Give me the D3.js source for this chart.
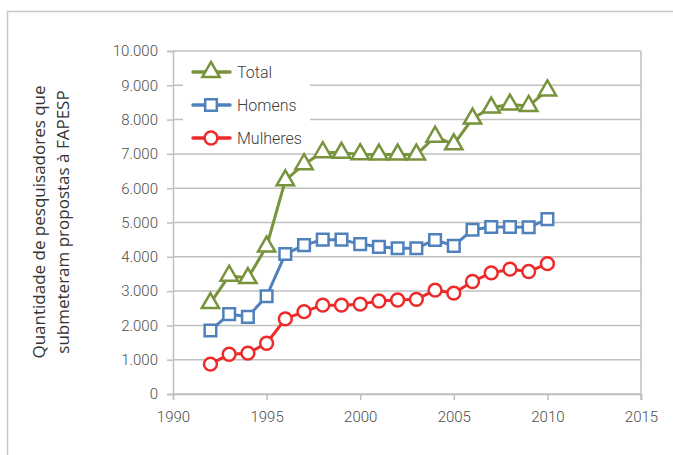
<!DOCTYPE html>
<html>
<head>
<meta charset="utf-8">
<script src="https://cdn.jsdelivr.net/npm/d3@7"></script>
<style>
  body { margin: 0; background: #fff; }
  svg { display: block; }
</style>
</head>
<body>
<script>
// data
var years = [1992, 1993, 1994, 1995, 1996, 1997, 1998, 1999, 2000, 2001,
  2002, 2003, 2004, 2005, 2006, 2007, 2008, 2009, 2010];
var total = [2650, 3450, 3380, 4300, 6230, 6700, 7050, 7030, 6990, 6980,
  6980, 6980, 7500, 7280, 8030, 8350, 8440, 8400, 8850];
var homens = [1850, 2330, 2250, 2850, 4080, 4340, 4500, 4500, 4370, 4290,
  4250, 4250, 4490, 4320, 4790, 4870, 4870, 4860, 5100];
var mulheres = [870, 1160, 1190, 1480, 2190, 2400, 2590, 2590, 2620, 2710,
  2740, 2760, 3030, 2940, 3280, 3530, 3640, 3570, 3800];
var xTicks = [1990, 1995, 2000, 2005, 2010, 2015];
var yTicks = [0, 1000, 2000, 3000, 4000, 5000, 6000, 7000, 8000, 9000, 10000];
var seriesNames = ["Total", "Homens", "Mulheres"];
var yTitle = ["Quantidade de pesquisadores que", "submeteram propostas à FAPESP"];

var width = 673, height = 455;
var margin = { top: 51, right: 32, bottom: 61, left: 173 };

var colors = { Total: "#77933c", Homens: "#4f81bd", Mulheres: "#ee2a2a" };
var shapes = { Total: d3.symbolTriangle, Homens: d3.symbolSquare, Mulheres: d3.symbolCircle };
var sizes = { Total: 130, Homens: 135, Mulheres: 130 };

var series = [
  { name: "Total", values: total },
  { name: "Homens", values: homens },
  { name: "Mulheres", values: mulheres }
];

var fmt = d3.formatLocale({ decimal: ",", thousands: ".", grouping: [3], currency: ["R$", ""] }).format(",");

var svg = d3.select("body").append("svg")
  .attr("width", width)
  .attr("height", height);

// outer frame (only top and left show)
svg.append("path")
  .attr("d", "M7.5," + height + "V11.5H" + width)
  .attr("fill", "none")
  .attr("stroke", "#c8c8c8")
  .attr("stroke-width", 1.5);

var x = d3.scaleLinear().domain([1990, 2015]).range([margin.left, width - margin.right]);
var y = d3.scaleLinear().domain([0, 10000]).range([height - margin.bottom, margin.top]);

var tickFont = "Roboto, sans-serif";

// gridlines
svg.append("g")
  .selectAll("line")
  .data(yTicks)
  .enter().append("line")
  .attr("x1", margin.left)
  .attr("x2", width - margin.right)
  .attr("y1", function (d) { return y(d); })
  .attr("y2", function (d) { return y(d); })
  .attr("stroke", "#bfbfbf")
  .attr("stroke-width", 1.5);

// right border of plot
svg.append("line")
  .attr("x1", x(2015)).attr("x2", x(2015))
  .attr("y1", y(10000)).attr("y2", y(0) + 6)
  .attr("stroke", "#bfbfbf")
  .attr("stroke-width", 1.5);

// y axis
var yAxis = svg.append("g")
  .attr("transform", "translate(" + margin.left + ",0)")
  .call(d3.axisLeft(y).tickValues(yTicks).tickSize(6).tickPadding(9).tickFormat(fmt));

// x axis
var xAxis = svg.append("g")
  .attr("transform", "translate(0," + y(0) + ")")
  .call(d3.axisBottom(x).tickValues(xTicks).tickSize(6).tickPadding(11).tickFormat(d3.format("d")));

[xAxis, yAxis].forEach(function (g) {
  g.select(".domain").attr("stroke", "#bfbfbf").attr("stroke-width", 1.5);
  g.selectAll(".tick line").attr("stroke", "#bfbfbf").attr("stroke-width", 1.5);
  g.selectAll(".tick text")
    .attr("fill", "#4d4d4d")
    .style("font-family", tickFont)
    .style("font-weight", 300)
    .style("font-size", "15px");
});

// axis title
svg.append("text")
  .attr("transform", "translate(39," + 222 + ") rotate(-90)")
  .attr("text-anchor", "middle")
  .style("font-family", "'Open Sans', sans-serif")
  .style("font-size", "17px")
  .attr("fill", "#333")
  .selectAll("tspan")
  .data(yTitle)
  .enter().append("tspan")
  .attr("x", 0)
  .attr("dy", function (d, i) { return i === 0 ? "0.35em" : "24px"; })
  .text(function (d) { return d; });

// lines and markers
var line = d3.line()
  .x(function (d, i) { return x(years[i]); })
  .y(function (d) { return y(d); });

var g = svg.append("g");

series.forEach(function (s) {
  g.append("path")
    .datum(s.values)
    .attr("d", line)
    .attr("fill", "none")
    .attr("stroke", colors[s.name])
    .attr("stroke-width", 3)
    .attr("stroke-linejoin", "round");

  g.selectAll(".m-" + s.name)
    .data(s.values)
    .enter().append("path")
    .attr("class", "m-" + s.name)
    .attr("d", d3.symbol().type(shapes[s.name]).size(sizes[s.name]))
    .attr("transform", function (d, i) {
      return "translate(" + x(years[i]) + "," + y(d) + ")";
    })
    .attr("fill", "#fff")
    .attr("stroke", colors[s.name])
    .attr("stroke-width", 2.5);
});

// legend
var legend = svg.append("g");

legend.append("rect")
  .attr("x", 183)
  .attr("y", 58)
  .attr("width", 127)
  .attr("height", 92)
  .attr("fill", "#fff");

var rows = legend.selectAll(".row")
  .data(seriesNames)
  .enter().append("g")
  .attr("class", "row")
  .attr("transform", function (d, i) { return "translate(0," + (72 + i * 33) + ")"; });

rows.append("line")
  .attr("x1", 193).attr("x2", 230)
  .attr("stroke", function (d) { return colors[d]; })
  .attr("stroke-width", 3.5)
  .attr("stroke-linecap", "round");

rows.append("path")
  .attr("d", function (d) { return d3.symbol().type(shapes[d]).size(sizes[d])(); })
  .attr("transform", "translate(211,0)")
  .attr("fill", "#fff")
  .attr("stroke", function (d) { return colors[d]; })
  .attr("stroke-width", 2.5);

rows.append("text")
  .attr("x", 237)
  .attr("dy", "0.35em")
  .style("font-family", tickFont)
  .style("font-weight", 300)
  .style("font-size", "16px")
  .attr("fill", "#404040")
  .text(function (d) { return d; });
</script>
</body>
</html>
